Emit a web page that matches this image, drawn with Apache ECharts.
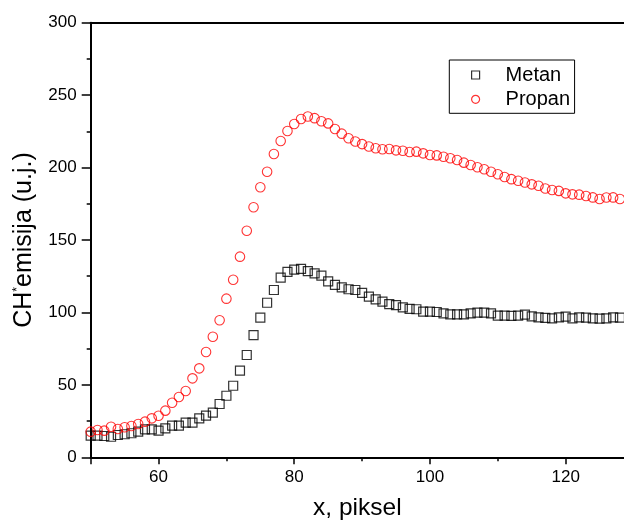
<!DOCTYPE html>
<html><head><meta charset="utf-8">
<script src="https://cdn.jsdelivr.net/npm/echarts@6/dist/echarts.min.js"></script>
<style>html,body{margin:0;padding:0;background:#fff}#c{width:624px;height:527px}</style>
</head><body><div id="c"></div>
<script>
const xValues = [50,51,52,53,54,55,56,57,58,59,60,61,62,63,64,65,66,67,68,69,70,71,72,73,74,75,76,77,78,79,80,81,82,83,84,85,86,87,88,89,90,91,92,93,94,95,96,97,98,99,100,101,102,103,104,105,106,107,108,109,110,111,112,113,114,115,116,117,118,119,120,121,122,123,124,125,126,127,128];
const metan = [14.9,14.9,14.7,14.2,15.4,15.9,16.6,17.7,19.3,19.3,18.4,20.0,21.8,21.8,23.9,23.9,26.9,28.7,30.8,36.8,42.5,49.4,59.8,70.6,84.4,96.4,106.7,115.5,124.0,128.0,129.5,130.0,128.5,127.0,125.4,121.5,119.0,117.3,116.0,115.5,113.5,110.9,109.0,107.4,105.8,105.1,103.5,102.4,102.2,100.5,100.5,100.3,99.4,98.7,98.7,98.7,99.4,99.8,99.8,99.4,97.8,97.8,97.6,97.8,98.5,97.3,96.6,96.2,95.9,96.6,97.1,95.9,96.6,96.4,95.9,95.7,95.9,96.6,96.4];
const propan = [17.7,18.8,18.4,21.1,19.5,20.7,21.6,23.0,24.6,26.9,28.7,32.2,37.7,41.6,45.8,54.5,61.4,72.7,83.2,94.6,109.5,122.6,138.5,156.4,172.6,186.4,197.1,209.4,218.3,225.2,230.1,233.5,235.3,234.1,232.0,230.5,226.6,223.4,220.2,218.0,216.2,214.5,213.3,212.6,212.8,211.9,211.6,210.7,211.0,209.8,208.7,208.4,207.5,206.4,205.2,203.4,201.8,200.2,198.8,197.1,195.4,193.5,192.0,190.9,189.7,188.4,187.4,185.5,184.5,183.9,182.2,181.5,181.3,180.4,179.4,178.3,179.3,179.4,178.3];
const seriesNames = ['Metan', 'Propan'];
const xMajorTicks = [50,60,80,100,120];
const xLabelValues = [60,80,100,120];
const xMinorTicks = [70,90,110];
const xTitle = 'x, piksel';
const yTitle = '{a|CH}{s|*}{a|emisija (u.j.)}';

const FONT = 'Liberation Sans, Arial, sans-serif';
const chart = echarts.init(document.getElementById('c'), null, {renderer: 'canvas'});
const blackLine = {color: '#000', width: 2};
chart.setOption({
  animation: false,
  backgroundColor: '#fff',
  grid: {left: 90.7, top: 22.7, right: 0, bottom: 69.7, containLabel: false},
  legend: {
    orient: 'vertical', left: 449.3, top: 60,
    padding: [5, 4.5, 4, 21.7], itemGap: 4.3,
    itemWidth: 8, itemHeight: 8,
    borderColor: '#000', borderWidth: 1, backgroundColor: '#fff',
    itemStyle: {borderWidth: 1.2},
    formatter: function (n) { return '{p|}{t|' + n + '}'; },
    textStyle: {fontFamily: FONT, fontSize: 20, color: '#000', lineHeight: 20,
      rich: {p: {width: 21}, t: {fontFamily: FONT, fontSize: 20, color: '#000', lineHeight: 20}}},
    data: seriesNames
  },
  xAxis: [
    {type: 'value', min: 50, max: 128.6, position: 'bottom',
     axisLine: {show: true, onZero: false, lineStyle: blackLine},
     axisTick: {show: true, inside: false, length: 7, customValues: xMajorTicks, lineStyle: {color: '#000', width: 1.5}},
     axisLabel: {show: true, customValues: xLabelValues, margin: 12, fontFamily: FONT, fontSize: 17, color: '#000'},
     splitLine: {show: false},
     name: xTitle, nameLocation: 'middle', nameGap: 38,
     nameTextStyle: {fontFamily: FONT, fontSize: 24.5, color: '#000'}},
    {type: 'value', min: 50, max: 128.6, position: 'bottom',
     axisLine: {show: false},
     axisTick: {show: true, inside: false, length: 4, customValues: xMinorTicks, lineStyle: {color: '#000', width: 1.5}},
     axisLabel: {show: false}, splitLine: {show: false}},
    {type: 'value', min: 50, max: 128.6, position: 'top',
     axisLine: {show: true, onZero: false, lineStyle: blackLine},
     axisTick: {show: false}, axisLabel: {show: false}, splitLine: {show: false}}
  ],
  yAxis: [
    {type: 'value', min: 0, max: 300, interval: 50, position: 'left',
     axisLine: {show: true, onZero: false, lineStyle: blackLine},
     axisTick: {show: true, inside: false, length: 9, lineStyle: {color: '#000', width: 1.5}},
     minorTick: {show: true, splitNumber: 2, length: 4, lineStyle: {color: '#000', width: 1.5}},
     axisLabel: {margin: 14, fontFamily: FONT, fontSize: 17, color: '#000'},
     splitLine: {show: false}, minorSplitLine: {show: false},
     name: yTitle, nameLocation: 'middle', nameRotate: 90, nameGap: 53,
     nameTextStyle: {fontFamily: FONT, fontSize: 25, color: '#000', lineHeight: 26,
       rich: {a: {fontFamily: FONT, fontSize: 25, color: '#000', lineHeight: 26},
              s: {fontFamily: FONT, fontSize: 12, color: '#000', verticalAlign: 'top', lineHeight: 12}}}}
  ],
  series: [
    {name: seriesNames[0], type: 'scatter', xAxisIndex: 0, yAxisIndex: 0,
     symbol: 'rect', symbolSize: 9,
     itemStyle: {color: 'rgba(255,255,255,0)', borderColor: '#000', borderWidth: 1.2},
     data: xValues.map((x, i) => [x, metan[i]])},
    {name: seriesNames[1], type: 'scatter', xAxisIndex: 0, yAxisIndex: 0,
     symbol: 'circle', symbolSize: 9.5,
     itemStyle: {color: 'rgba(255,255,255,0)', borderColor: '#ff0000', borderWidth: 1.1},
     data: xValues.map((x, i) => [x, propan[i]])}
  ]
});
</script></body></html>
